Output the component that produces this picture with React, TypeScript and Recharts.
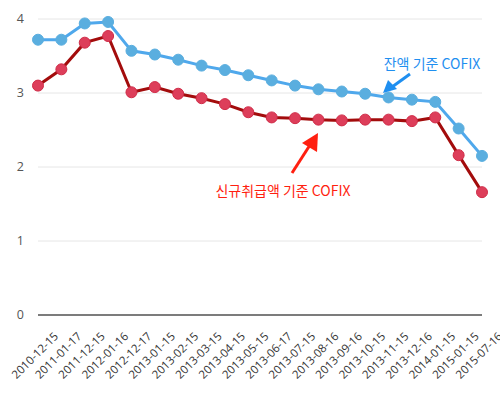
import { LineChart, Line, XAxis, YAxis, CartesianGrid } from 'recharts'

// COFIX rates by announcement date
const dates = [
  '2010-12-15', '2011-01-17', '2011-12-15', '2012-01-16', '2012-12-17',
  '2013-01-15', '2013-02-15', '2013-03-15', '2013-04-15', '2013-05-15',
  '2013-06-17', '2013-07-15', '2013-08-16', '2013-09-16', '2013-10-15',
  '2013-11-15', '2013-12-16', '2014-01-15', '2015-01-15', '2015-07-16',
]

const balanceCofix = [
  3.72, 3.72, 3.94, 3.96, 3.57, 3.52, 3.45, 3.37, 3.31, 3.24,
  3.17, 3.10, 3.05, 3.02, 2.99, 2.94, 2.91, 2.88, 2.52, 2.15,
]

const newLoanCofix = [
  3.10, 3.32, 3.68, 3.77, 3.01, 3.08, 2.99, 2.93, 2.85, 2.74,
  2.67, 2.66, 2.64, 2.63, 2.64, 2.64, 2.62, 2.67, 2.16, 1.66,
]

const yTicks = [0, 1, 2, 3, 4]

const data = dates.map((d, i) => ({ date: d, balance: balanceCofix[i], newLoan: newLoanCofix[i] }))

const FONT = '"Open Sans", "Noto Sans", sans-serif'
const KR_FONT = '"Noto Sans CJK KR", "Noto Sans", sans-serif'

const DateTick = (props: any) => {
  const { x, y, payload } = props
  return (
    <text
      transform={`translate(${x + 21},${y + 14}) rotate(-45)`}
      textAnchor="end"
      fontSize={11.5}
      fontFamily={FONT}
      fill="#333"
    >
      {payload.value}
    </text>
  )
}

export default function App() {
  return (
    <div style={{ position: 'absolute', top: 0, left: 0, width: 500, height: 393 }}>
      <LineChart width={500} height={393} data={data} margin={{ top: 19, right: 18, bottom: 0, left: 0 }}>
        <CartesianGrid vertical={false} stroke="#e6e6e6" />
        <XAxis
          dataKey="date"
          interval={0}
          height={78}
          tickLine={false}
          axisLine={{ stroke: '#555', strokeWidth: 1.5 }}
          tick={<DateTick />}
        />
        <YAxis
          width={38}
          domain={[0, 4]}
          ticks={yTicks}
          axisLine={false}
          tickLine={false}
          tickMargin={8}
          tick={{ fill: '#555', fontSize: 12.5, fontFamily: FONT }}
        />
        <Line
          dataKey="balance"
          stroke="#4fa8ec"
          strokeWidth={3}
          dot={{ r: 5.5, fill: '#5aaedf', stroke: '#5aaedf', strokeWidth: 1 }}
          isAnimationActive={false}
        />
        <Line
          dataKey="newLoan"
          stroke="#a30c0c"
          strokeWidth={3}
          dot={{ r: 5.5, fill: '#dd3e5a', stroke: '#d02c48', strokeWidth: 1 }}
          isAnimationActive={false}
        />
      </LineChart>
      <svg width={500} height={393} style={{ position: 'absolute', top: 0, left: 0, pointerEvents: 'none' }}>
        <text
          x={432}
          y={69}
          textAnchor="middle"
          fontSize={14}
          fontFamily={KR_FONT}
          fill="#1f8ff0"
          stroke="#fff"
          strokeWidth={3}
          paintOrder="stroke"
        >
          잔액 기준 COFIX
        </text>
        <line x1={410} y1={74} x2={392} y2={87} stroke="#1f8ff0" strokeWidth={3} />
        <polygon points="383,93 388,80 397,89" fill="#1f8ff0" />
        <text
          x={283}
          y={196}
          textAnchor="middle"
          fontSize={14}
          fontFamily={KR_FONT}
          fill="#ff1f10"
          stroke="#fff"
          strokeWidth={3}
          paintOrder="stroke"
        >
          신규취급액 기준 COFIX
        </text>
        <line x1={292} y1={173} x2={310} y2={145} stroke="#ff1f10" strokeWidth={3} />
        <polygon points="318,133 302,143 317,152" fill="#ff1f10" />
      </svg>
    </div>
  )
}
